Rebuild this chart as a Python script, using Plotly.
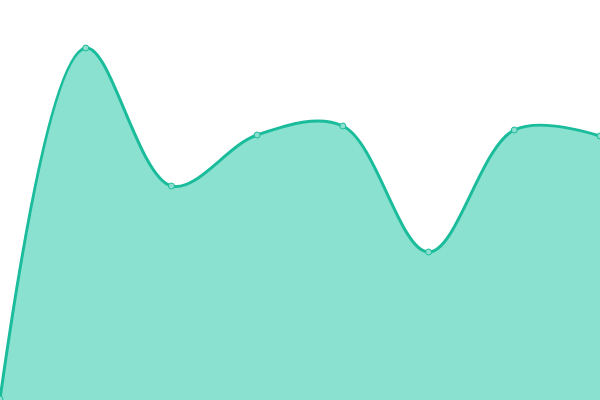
import plotly.graph_objects as go

categories = [0, 1, 2, 3, 4, 5, 6, 7]
values = [1, 352, 214, 265, 274, 148, 270, 264]

fig = go.Figure(go.Scatter(
    x=categories, y=values, mode="lines+markers",
    line=dict(color="#1abc9c", width=3, shape="spline", smoothing=1.0),
    fill="tozeroy", fillcolor="rgba(22,196,160,0.5)",
    marker=dict(size=6, color="#8ddece", line=dict(color="#1abc9c", width=1)),
    cliponaxis=False, hoverinfo="skip"))
fig.update_layout(
    width=600, height=400, margin=dict(l=0, r=0, t=0, b=0),
    paper_bgcolor="white", plot_bgcolor="white", showlegend=False,
    xaxis=dict(range=[0, 7], visible=False, fixedrange=True),
    yaxis=dict(range=[0, 400], visible=False, fixedrange=True))
fig.write_html("out.html", config={"displayModeBar": False})

with open("out.html", encoding="utf-8") as f:
    html = f.read()
html = html.replace("<body>", '<body style="margin:0;overflow:hidden">', 1)
with open("out.html", "w", encoding="utf-8") as f:
    f.write(html)
